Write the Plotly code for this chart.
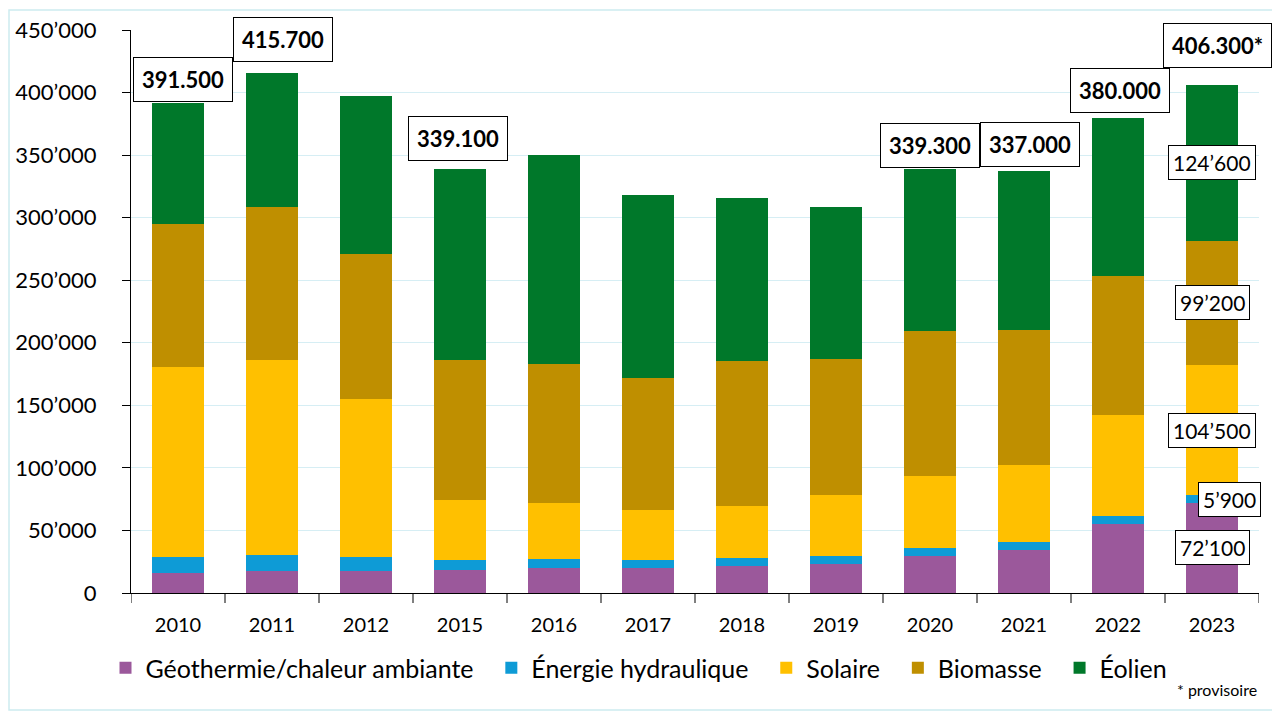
import plotly.graph_objects as go

years = ["2010", "2011", "2012", "2015", "2016", "2017", "2018", "2019", "2020", "2021", "2022", "2023"]
geo = [16000, 17600, 17600, 18400, 20300, 20000, 21900, 23200, 29600, 34400, 55200, 72100]
hydro = [13000, 13000, 11400, 8000, 6900, 6400, 6100, 6700, 6400, 6400, 6400, 5900]
solar = [151800, 155800, 126200, 48000, 44800, 40000, 41600, 48500, 57600, 61600, 80800, 104500]
bio = [114400, 122400, 116000, 112000, 111200, 105600, 116000, 108800, 116000, 108000, 110600, 99200]
wind = [96300, 106900, 126400, 152700, 167200, 146400, 130400, 121600, 129700, 126600, 127000, 124600]

series_names = ["Géothermie/chaleur ambiante", "Énergie hydraulique", "Solaire", "Biomasse", "Éolien"]
series_colors = ["#9B589B", "#0E9BD6", "#FFC000", "#BF8F00", "#00782A"]

total_labels = {"2010": "391.500", "2011": "415.700", "2015": "339.100", "2020": "339.300",
                "2021": "337.000", "2022": "380.000", "2023": "406.300*"}
label_shift = {"2010": (5, 24), "2011": (11, 33), "2015": (-2, 30), "2020": (0, 23),
               "2021": (6, 27), "2022": (2, 27), "2023": (5, 39)}

y_tick_vals = [0, 50000, 100000, 150000, 200000, 250000, 300000, 350000, 400000, 450000]
y_tick_text = ["0", "50’000", "100’000", "150’000", "200’000", "250’000", "300’000", "350’000", "400’000", "450’000"]

last_labels = ["72’100", "5’900", "104’500", "99’200", "124’600"]
last_xshift = [0, 17, 0, 0, 0]

FONT = "Lato"
OFF = 8  # page body margin
W, H = 1272, 712
# plot area in screen pixels: x 131..1259, y 30..593
L = 131 - OFF
T = 30 - OFF
R = W - (1259 - OFF)
B = H - (593 - OFF)
plot_w = W - L - R
plot_h = H - T - B


def sx(px):
    return (px - OFF - L) / plot_w


def sy(py):
    return (H - B - (py - OFF)) / plot_h


fig = go.Figure()
all_series = [geo, hydro, solar, bio, wind]
xidx = list(range(len(years)))
pad = "\u00a0\u00a0"
for name, vals, col in zip(series_names, all_series, series_colors):
    fig.add_trace(go.Bar(x=xidx, y=vals, name=name + pad, marker=dict(color=col, line=dict(width=0)),
                         width=0.56, customdata=years,
                         hovertemplate="%{customdata}: %{y}<extra>" + name + "</extra>"))

totals = [sum(s[i] for s in all_series) for i in range(len(years))]

annotations = []
for i, yr in enumerate(years):
    if yr in total_labels:
        dx, dy = label_shift[yr]
        annotations.append(dict(x=i, y=totals[i], xref="x", yref="y", text="<b>" + total_labels[yr] + "</b>",
                                showarrow=False, xshift=dx, yshift=dy,
                                font=dict(family=FONT, size=22, color="black"),
                                bordercolor="black", borderwidth=1, borderpad=8, bgcolor="white"))

idx = len(years) - 1
cum = 0
for k, s in enumerate(all_series):
    v = s[idx]
    mid = cum + v / 2
    cum += v
    annotations.append(dict(x=idx, y=mid, xref="x", yref="y", text=last_labels[k], showarrow=False,
                            xshift=last_xshift[k], font=dict(family=FONT, size=21, color="black"),
                            bordercolor="black", borderwidth=1, borderpad=4, bgcolor="white"))

annotations.append(dict(x=sx(1259), y=sy(689), xref="paper", yref="paper",
                        text="* provisoire", showarrow=False,
                        font=dict(family=FONT, size=16, color="black"), xanchor="right", yanchor="middle"))

fig.update_layout(
    width=W, height=H,
    barmode="stack",
    paper_bgcolor="white", plot_bgcolor="white",
    margin=dict(l=L, r=R, t=T, b=B, autoexpand=False),
    font=dict(family=FONT, size=20, color="black"),
    showlegend=True,
    legend=dict(orientation="h", x=sx(645), xanchor="center", y=sy(668), yanchor="middle",
                font=dict(family=FONT, size=25, color="black"), traceorder="normal",
                itemsizing="constant", itemwidth=30),
    xaxis=dict(range=[-0.5, len(years) - 0.5], tickvals=xidx, ticktext=years,
               showline=True, linecolor="black", linewidth=1, ticks="", showgrid=False,
               ticklabelstandoff=14,
               tickfont=dict(family=FONT, size=20, color="black"), automargin=False),
    yaxis=dict(range=[0, 450000], tickvals=y_tick_vals, ticktext=y_tick_text, showline=True,
               linecolor="black", linewidth=1, ticks="outside", ticklen=8, tickcolor="black",
               showgrid=True, gridcolor="#D6EEF4", gridwidth=1, zeroline=False,
               ticklabelstandoff=21, automargin=False,
               tickfont=dict(family=FONT, size=22, color="black")),
    annotations=annotations,
)

for j in range(len(years) + 1):
    fig.add_shape(type="line", xref="x", yref="paper", x0=j - 0.5, x1=j - 0.5, y0=0, y1=-10 / plot_h,
                  line=dict(color="black", width=1))

fig.add_shape(type="rect", xref="paper", yref="paper",
              x0=sx(9), x1=sx(1275),
              y0=sy(710), y1=sy(10),
              line=dict(color="#CDEBF0", width=1.5), fillcolor="rgba(0,0,0,0)", layer="below")

fig.write_html("out.html")
